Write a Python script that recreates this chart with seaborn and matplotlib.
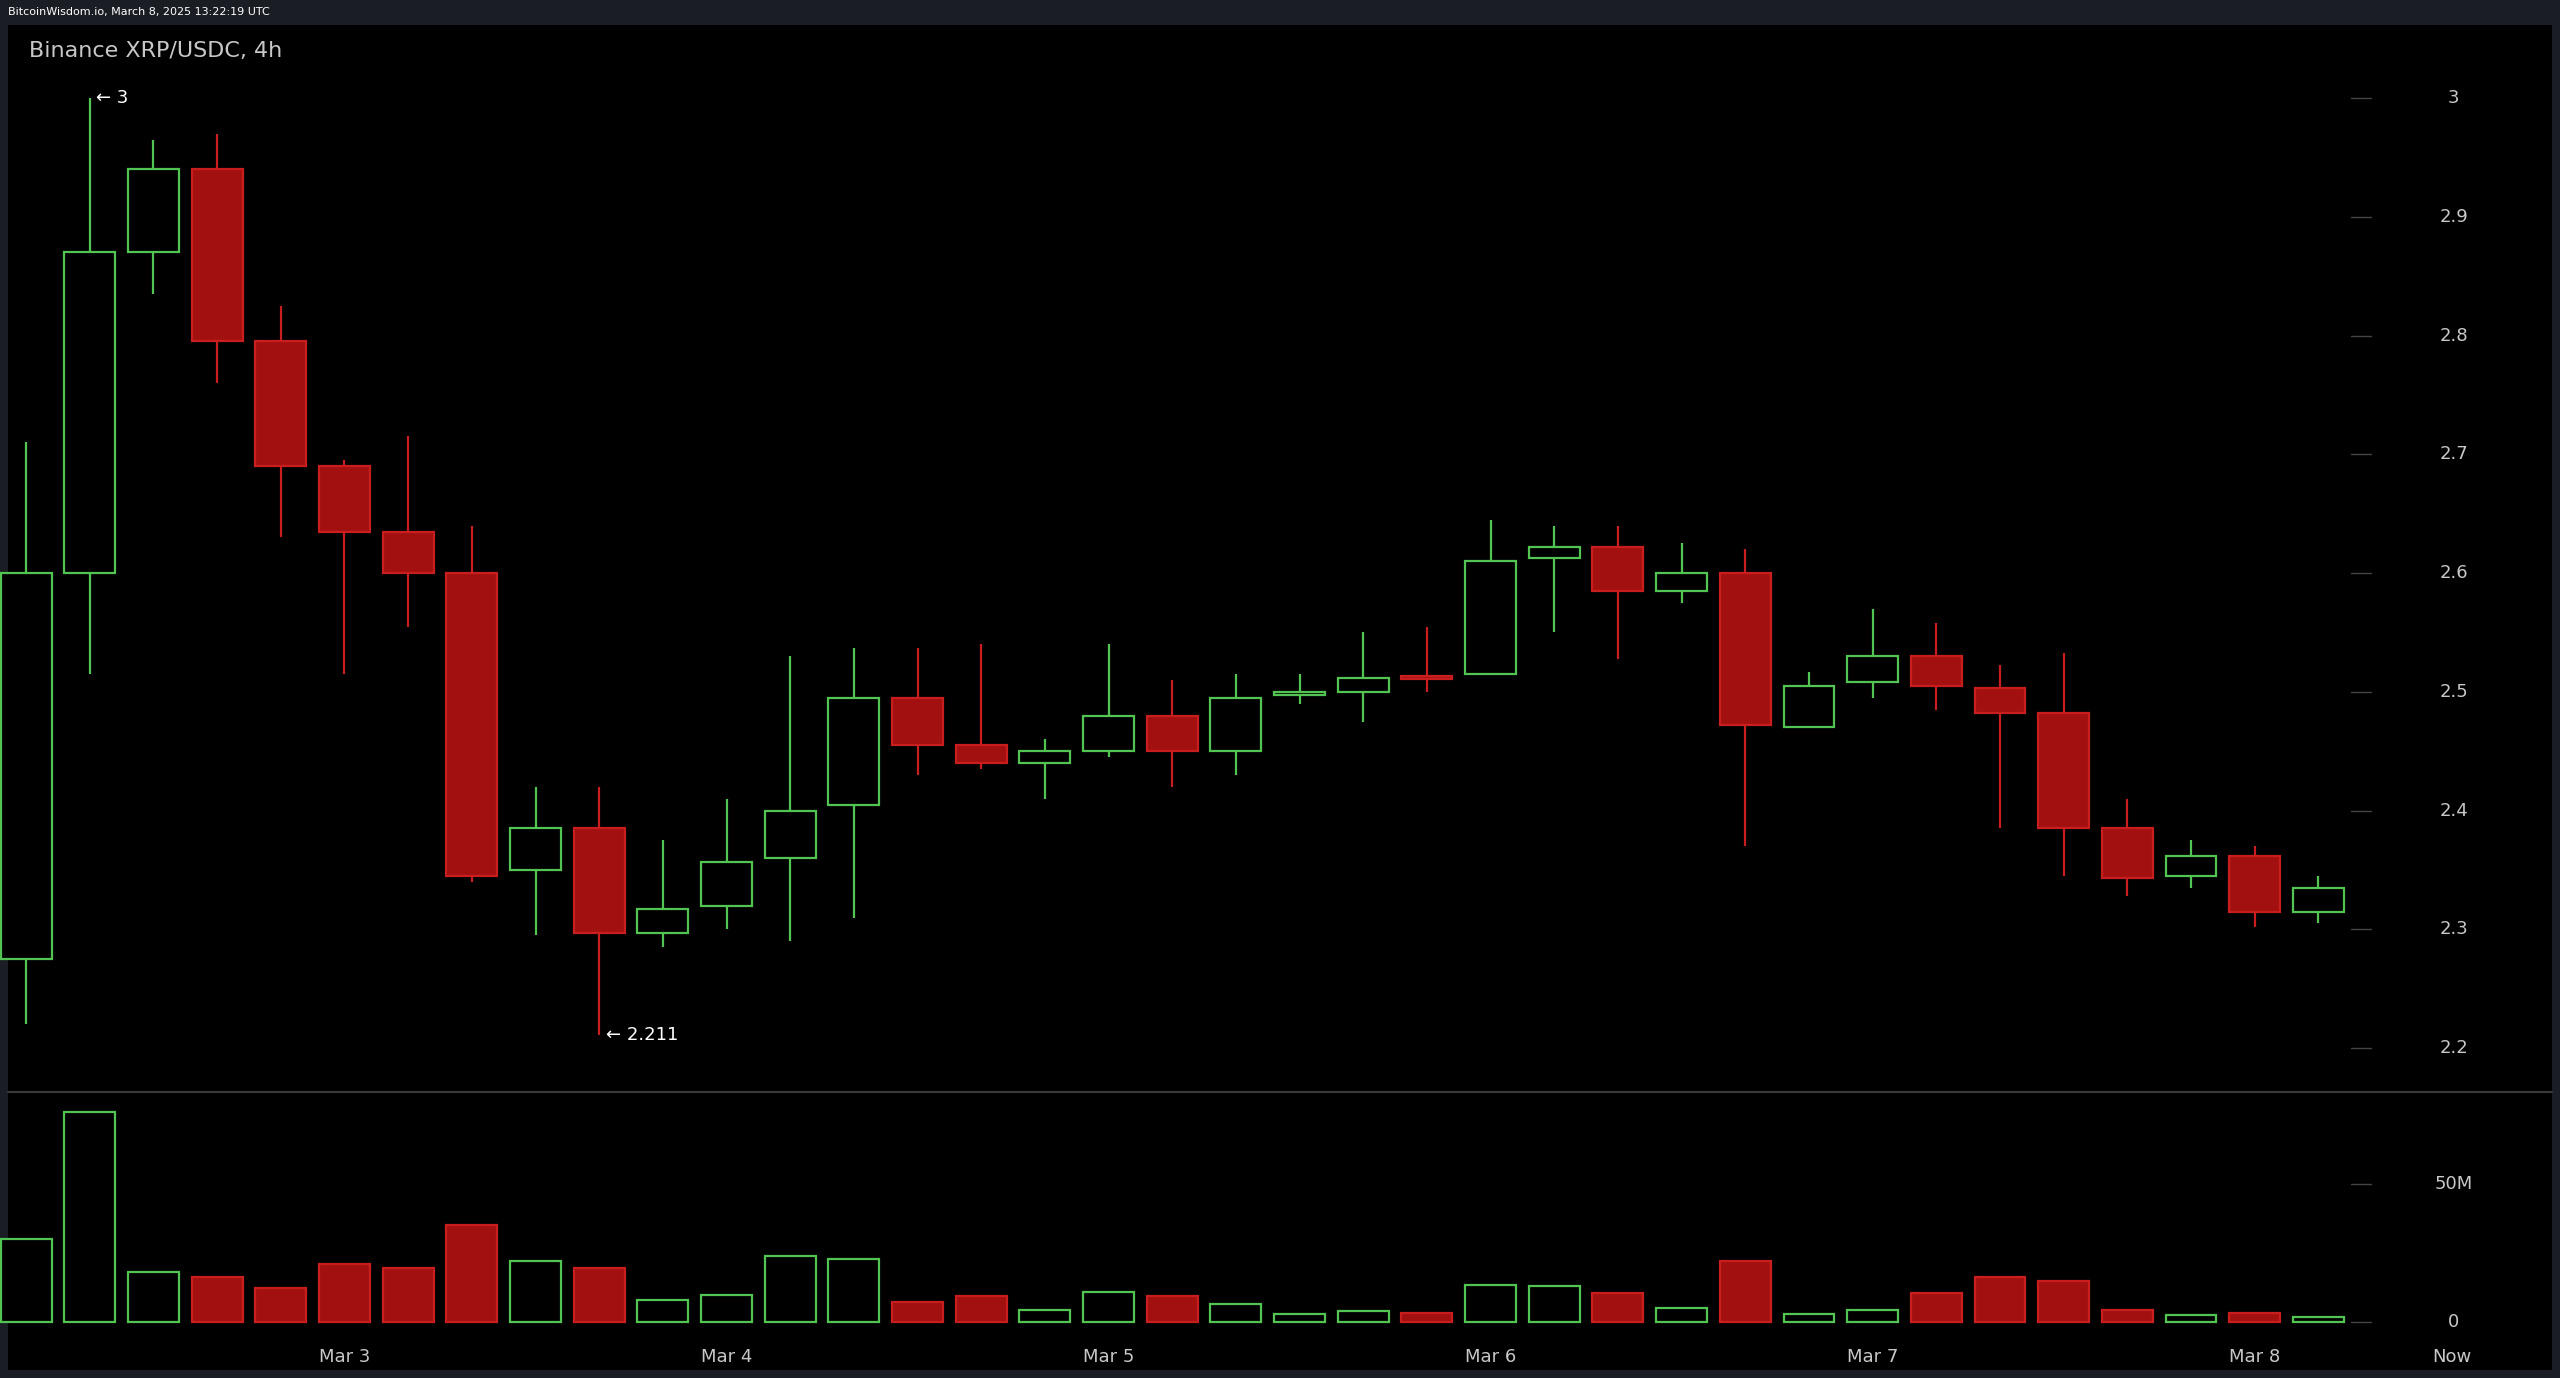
import matplotlib
matplotlib.use("Agg")
import matplotlib.pyplot as plt
import matplotlib.transforms as mtrans
import seaborn as sns

# 4h candles, first one is Mar 2 04:00 UTC
opens  = [2.275, 2.60, 2.87, 2.94, 2.795, 2.69, 2.635, 2.60, 2.35, 2.385, 2.297, 2.32, 2.36,
          2.405, 2.495, 2.455, 2.44, 2.45, 2.48, 2.45, 2.497, 2.50, 2.513, 2.515, 2.613, 2.622,
          2.585, 2.60, 2.47, 2.508, 2.53, 2.503, 2.482, 2.385, 2.345, 2.362, 2.315]
highs  = [2.71, 3.00, 2.965, 2.97, 2.825, 2.695, 2.715, 2.64, 2.42, 2.42, 2.375, 2.41, 2.53,
          2.537, 2.537, 2.54, 2.46, 2.54, 2.51, 2.515, 2.515, 2.55, 2.555, 2.645, 2.64, 2.64,
          2.625, 2.62, 2.517, 2.57, 2.558, 2.523, 2.533, 2.41, 2.375, 2.37, 2.345]
lows   = [2.22, 2.515, 2.835, 2.76, 2.63, 2.515, 2.555, 2.34, 2.295, 2.211, 2.285, 2.30, 2.29,
          2.31, 2.43, 2.435, 2.41, 2.445, 2.42, 2.43, 2.49, 2.475, 2.50, 2.515, 2.55, 2.528,
          2.575, 2.37, 2.47, 2.495, 2.485, 2.385, 2.345, 2.328, 2.335, 2.302, 2.305]
closes = [2.60, 2.87, 2.94, 2.795, 2.69, 2.635, 2.60, 2.345, 2.385, 2.297, 2.317, 2.357, 2.40,
          2.495, 2.455, 2.44, 2.45, 2.48, 2.45, 2.495, 2.50, 2.512, 2.511, 2.61, 2.622, 2.585,
          2.60, 2.472, 2.505, 2.53, 2.505, 2.482, 2.385, 2.343, 2.362, 2.315, 2.335]
volumes = [30, 76, 18, 16.5, 12.5, 21, 19.5, 35, 22, 19.5, 8, 10, 24, 23, 7.5, 9.5, 4.5, 11,
           9.5, 6.5, 3, 4, 3.5, 13.5, 13, 10.5, 5, 22, 3, 4.5, 10.5, 16.5, 15, 4.5, 2.5, 3.5, 1.8]
date_labels = ["Mar 3", "Mar 4", "Mar 5", "Mar 6", "Mar 7", "Mar 8", "Now"]
date_pos = [5, 11, 17, 23, 29, 35, 38.1]
price_ticks = [2.2, 2.3, 2.4, 2.5, 2.6, 2.7, 2.8, 2.9, 3.0]
price_tick_labels = ["2.2", "2.3", "2.4", "2.5", "2.6", "2.7", "2.8", "2.9", "3"]
vol_ticks = [0, 50]
vol_tick_labels = ["0", "50M"]

GREEN = "#52c452"
RED = "#a31010"
RED_EDGE = "#c81e1e"
TXT = "#c8c8c8"

sns.set_theme(style="dark")
plt.rcParams["font.family"] = ["DejaVu Sans"]

fig = plt.figure(figsize=(25.6, 13.78), dpi=100, facecolor="#1a1d24")
W, H = 1568.0, 844.0
bg = fig.add_axes([0.003, 0.006, 0.994, 0.976])
bg.set_facecolor("black"); bg.set_xticks([]); bg.set_yticks([])
for s in bg.spines.values():
    s.set_visible(False)

ax = fig.add_axes([0, 1 - 668 / H, 1, (668 - 15) / H])
vax = fig.add_axes([0, 1 - 815 / H, 1, (815 - 670) / H])
xl = (-16 / 39.0, (1568 - 16) / 39.0)
for a in (ax, vax):
    a.set_facecolor("none")
    a.set_xlim(*xl)
    a.set_xticks([]); a.set_yticks([])
    a.grid(False)
    for s in a.spines.values():
        s.set_visible(False)
ax.set_ylim(3 - 608 / 727.5, 3 + 45 / 727.5)
vax.set_ylim(-3, (810 - 670) / 85 * 50)

bw = 0.8
for i, (o, h, l, c, v) in enumerate(zip(opens, highs, lows, closes, volumes)):
    up = c >= o
    col = GREEN if up else RED_EDGE
    ax.vlines(i, l, min(o, c), color=col, lw=1.6)
    ax.vlines(i, max(o, c), h, color=col, lw=1.6)
    body = max(abs(c - o), 0.002)
    ax.bar(i, body, bottom=min(o, c), width=bw, color="black" if up else RED,
           edgecolor=col, linewidth=1.6)
    vax.bar(i, v, width=bw, color="black" if up else RED, edgecolor=col, linewidth=1.6)

# right-hand price scale
tr = mtrans.blended_transform_factory(ax.transAxes, ax.transData)
for t, lab in zip(price_ticks, price_tick_labels):
    ax.plot([1440 / W, 1452 / W], [t, t], color="#444444", lw=1, transform=tr)
    ax.text(1503 / W, t, lab, transform=tr, ha="center", va="center", color=TXT, fontsize=13)
vtr = mtrans.blended_transform_factory(vax.transAxes, vax.transData)
for t, lab in zip(vol_ticks, vol_tick_labels):
    vax.plot([1440 / W, 1452 / W], [t, t], color="#444444", lw=1, transform=vtr)
    vax.text(1503 / W, t, lab, transform=vtr, ha="center", va="center", color=TXT, fontsize=13)

for p, lab in zip(date_pos, date_labels):
    fig.text((p * 39 + 16) / W, 1 - 831 / H, lab, ha="center", va="center", color=TXT, fontsize=13)

# panel separator
fig.add_artist(plt.Line2D([0.003, 0.997], [1 - 669 / H] * 2, color="#3a3a3a", lw=1.5))

ax.text(1.1, 3.0, "\u2190 3", color="white", fontsize=13, va="center")
ax.text(9.1, 2.211, "\u2190 2.211", color="white", fontsize=13, va="center")

fig.text(18 / W, 1 - 31 / H, "Binance XRP/USDC, 4h", color=TXT, fontsize=16, va="center")
fig.text(5 / W, 1 - 7.5 / H, "BitcoinWisdom.io, March 8, 2025 13:22:19 UTC", color="white",
         fontsize=8, va="center")

fig.savefig("out.png", dpi=100, facecolor=fig.get_facecolor())
